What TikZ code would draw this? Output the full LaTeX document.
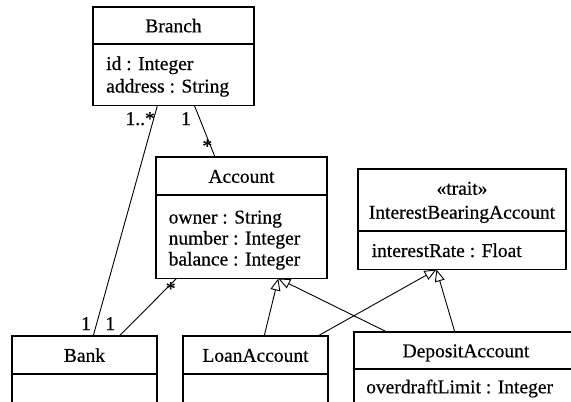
\documentclass[tikz,border=0pt]{standalone}
\usepackage{fontspec}
\setmainfont{Liberation Serif}[FakeBold=0.5]
\usetikzlibrary{arrows.meta,calc}
\newcommand\umlfont{\fontsize{19.5pt}{22pt}\selectfont}
\tikzset{
  classhead/.style={draw, line width=1.1pt, inner sep=0pt, outer sep=0pt,
    anchor=north west, text height=13.6pt, text depth=0pt, font=\umlfont},
  classbody/.style={draw, line width=1.1pt, inner sep=0pt, outer sep=0pt, anchor=north},
  attr/.style={anchor=base west, inner sep=0pt, font=\umlfont},
  mult/.style={anchor=base, inner sep=0pt, font=\umlfont},
  assoc/.style={line width=0.9pt},
  inherit/.style={line width=0.9pt,
    -{Triangle[open, fill=white, length=12pt, width=10pt]}},
}
\begin{document}
\begin{tikzpicture}[x=1pt, y=-1pt]
\useasboundingbox (0,0) rectangle (571,402);
\clip (0,0) rectangle (571,402);

% Branch
\node[classhead, minimum width=161pt, minimum height=37pt] (branch) at (93,7) {Branch};
\node[classbody, minimum width=161pt, minimum height=61.5pt] (branchBody) at (branch.south) {};
\node[attr] (branchA1) at (106,70) {id : Integer};
\node[attr] (branchA2) at (106,92.5) {address : String};

% Account
\node[classhead, minimum width=171pt, minimum height=38pt] (account) at (156,157) {Account};
\node[classbody, minimum width=171pt, minimum height=83.5pt] (accountBody) at (account.south) {};
\node[attr] (accountA1) at (168.5,223.5) {owner : String};
\node[attr] (accountA2) at (168.5,244.5) {number : Integer};
\node[attr] (accountA3) at (168.5,265.5) {balance : Integer};

% InterestBearingAccount (trait)
\node[classhead, minimum width=208pt, minimum height=62pt] (iba) at (358,169) {};
\node[mult] (ibaStereo) at ($(iba.north)+(0,25.7)$) {«trait»};
\node[mult] (ibaName) at ($(iba.north)+(0,49.7)$) {InterestBearingAccount};
\node[classbody, minimum width=208pt, minimum height=38.5pt] (ibaBody) at (iba.south) {};
\node[attr] (ibaA1) at (371.5,257) {interestRate : Float};

% Bank
\node[classhead, minimum width=145pt, minimum height=38pt] (bank) at (12,336) {Bank};
\node[classbody, minimum width=145pt, minimum height=46pt] (bankBody) at (bank.south) {};

% LoanAccount
\node[classhead, minimum width=145pt, minimum height=38pt] (loan) at (183,336) {LoanAccount};
\node[classbody, minimum width=145pt, minimum height=46pt] (loanBody) at (loan.south) {};

% DepositAccount
\node[classhead, minimum width=224pt, minimum height=37pt] (deposit) at (354,332) {DepositAccount};
\node[classbody, minimum width=224pt, minimum height=51pt] (depositBody) at (deposit.south) {};
\node[attr] (depositA1) at (366,393.3) {overdraftLimit : Integer};

% associations
\draw[assoc] ($(branchBody.south west)!0.40!(branchBody.south east)$)
          -- ($(bank.north west)!0.56!(bank.north east)$);
\draw[assoc] ($(branchBody.south west)!0.63!(branchBody.south east)$)
          -- ($(account.north west)!0.345!(account.north east)$);
\draw[assoc] ($(bank.north west)!0.74!(bank.north east)$)
          -- ($(accountBody.south west)!0.12!(accountBody.south east)$);

% multiplicities
\node[mult, anchor=base east] (mBranchBank) at (155,125) {1..*};
\node[mult] (mBranchAcc) at (186,125) {1};
\node[mult] (mAccBranch) at (207.3,152.5) {*};
\node[mult] (mBankBranch) at (86,330) {1};
\node[mult] (mBankAcc) at (110.3,330) {1};
\node[mult] (mAccBank) at (170.7,295) {*};

% generalisations
\coordinate (accTip) at ($(accountBody.south west)!0.715!(accountBody.south east)$);
\coordinate (ibaTip) at ($(ibaBody.south west)!0.377!(ibaBody.south east)$);
\draw[inherit] ($(deposit.north west)!0.147!(deposit.north east)$) -- (accTip);
\draw[inherit] ($(loan.north west)!0.56!(loan.north east)$) -- (accTip);
\draw[inherit] ($(loan.north west)!0.93!(loan.north east)$) -- (ibaTip);
\draw[inherit] ($(deposit.north west)!0.45!(deposit.north east)$) -- (ibaTip);
\end{tikzpicture}
\end{document}
